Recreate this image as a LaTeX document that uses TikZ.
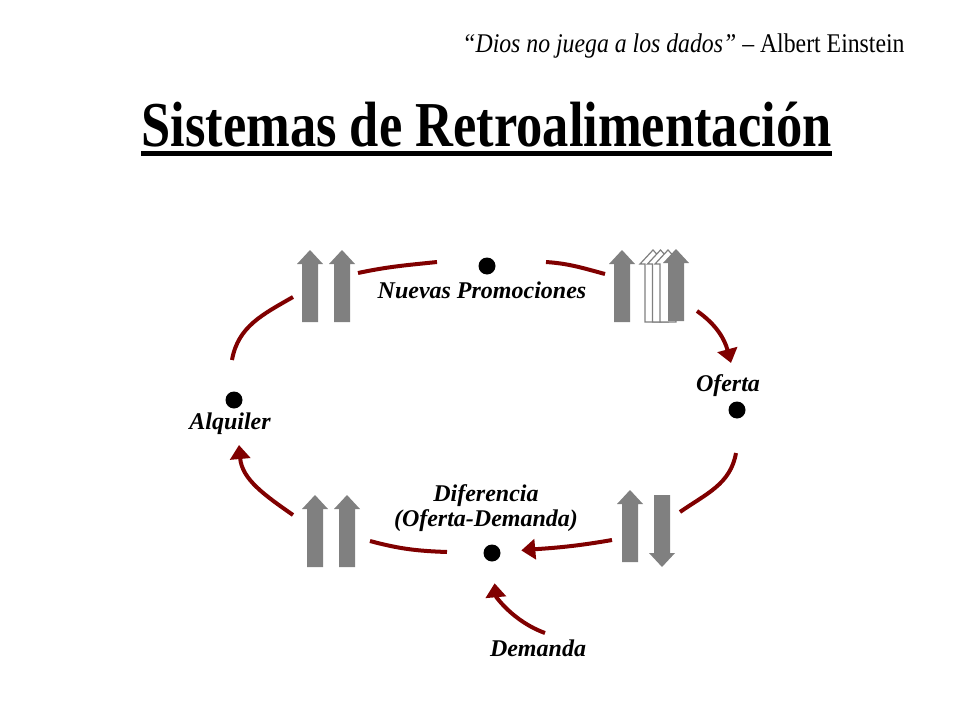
\documentclass[tikz,border=0pt]{standalone}
\usepackage{fontspec}
\usepackage{graphicx}
\setmainfont{Liberation Serif}
\usetikzlibrary{arrows.meta}
\definecolor{fbred}{RGB}{128,0,0}
\tikzset{%
    vtx/.style={inner sep=0pt,circle,fill=black,minimum size=8.5pt},
    lbl/.style={inner sep=0pt,font=\bfseries\itshape\fontsize{12}{12.5}\selectfont},
    fb/.style={fbred,line width=2pt},
    fbarr/.style={fb,-{Triangle[width=10pt,length=7pt]}},
    uparr/.pic={\path[pic actions] (-8,0) -- (-8,58) -- (-13,58) -- (0,72)
        -- (13,58) -- (8,58) -- (8,0) -- cycle;}
}

\begin{document}
\begin{tikzpicture}[x=0.5pt,y=0.5pt]
        \useasboundingbox (0,0) rectangle (960,720);

        % heading
        \node[anchor=base east,inner sep=0pt] (qt) at (905,668)
            {\scalebox{0.88}[1]{\fontsize{13.5}{16}\selectfont\textit{“Dios no juega a los dados”} – Albert Einstein}};
        \node[anchor=base,inner sep=0pt] (ttl) at (486.5,574)
            {\scalebox{0.82}[1]{\bfseries\fontsize{32}{36}\selectfont Sistemas de Retroalimentación}};
        \draw[line width=2.5pt] ([yshift=-3.5pt]ttl.base west) -- ([yshift=-3.5pt]ttl.base east);

        % dots and labels
        \node[vtx] (np) at (487,454){};
        \node[vtx] (alq) at (234,320){};
        \node[vtx] (of) at (737,310){};
        \node[vtx] (dif) at (492,167){};

        \node[lbl] (npl) at (482,430) {Nuevas Promociones};
        \node[lbl] (alql) at (230,296) {Alquiler};
        \node[lbl] (ofl) at (728,334) {Oferta};
        \node[lbl,align=center] (difl) at (486,212) {Diferencia\\(Oferta-Demanda)};
        \node[lbl] (dem) at (538,72) {Demanda};

        % gray arrows
        \pic[fill=gray] at (310,398) {uparr};
        \pic[fill=gray] at (342,398) {uparr};
        \pic[fill=gray] at (622,398) {uparr};
        \pic[fill=white,draw=gray,line width=0.6pt] at (653,398) {uparr};
        \pic[fill=white,draw=gray,line width=0.6pt] at (660.5,398) {uparr};
        \pic[fill=white,draw=gray,line width=0.6pt] at (668,398) {uparr};
        \pic[fill=gray] at (676,399) {uparr};
        \pic[fill=gray] at (315,153) {uparr};
        \pic[fill=gray] at (347,153) {uparr};
        \pic[fill=gray] at (630,158) {uparr};
        \pic[fill=gray,yscale=-1] at (662,225) {uparr};

        % feedback loop
        \coordinate (a1) at (232,360);
        \coordinate (a2) at (293,423);
        \coordinate (b1) at (358,447);
        \coordinate (b2) at (437,458);
        \coordinate (c1) at (546,458);
        \coordinate (c2) at (605,446);
        \coordinate (d1) at (697,409);
        \coordinate (d2) at (731,357);
        \coordinate (e1) at (736,267);
        \coordinate (e2) at (680,208);
        \coordinate (f1) at (612,180);
        \coordinate (g1) at (447,168);
        \coordinate (g2) at (370,179);
        \coordinate (h1) at (293,205);
        \coordinate (h2) at (239,275);
        \coordinate (k1) at (545,87);

        \draw[fb] (a1) to[out=80,in=210] (a2);
        \draw[fb] (b1) to[out=12,in=186] (b2);
        \draw[fb] (c1) to[out=-4,in=165] (c2);
        \draw[fbarr] (d1) to[out=-35,in=105] (d2);
        \draw[fb] (e1) to[out=-100,in=35] (e2);
        \draw[fbarr,shorten >=10.25pt] (f1) to[out=190,in=5] (dif);
        \draw[fb] (g1) to[out=178,in=-15] (g2);
        \draw[fbarr] (h1) to[out=145,in=-85] (h2);
        \draw[fbarr,shorten >=10.75pt] (k1) to[out=160,in=-85] (dif);
    \end{tikzpicture}
\end{document}
